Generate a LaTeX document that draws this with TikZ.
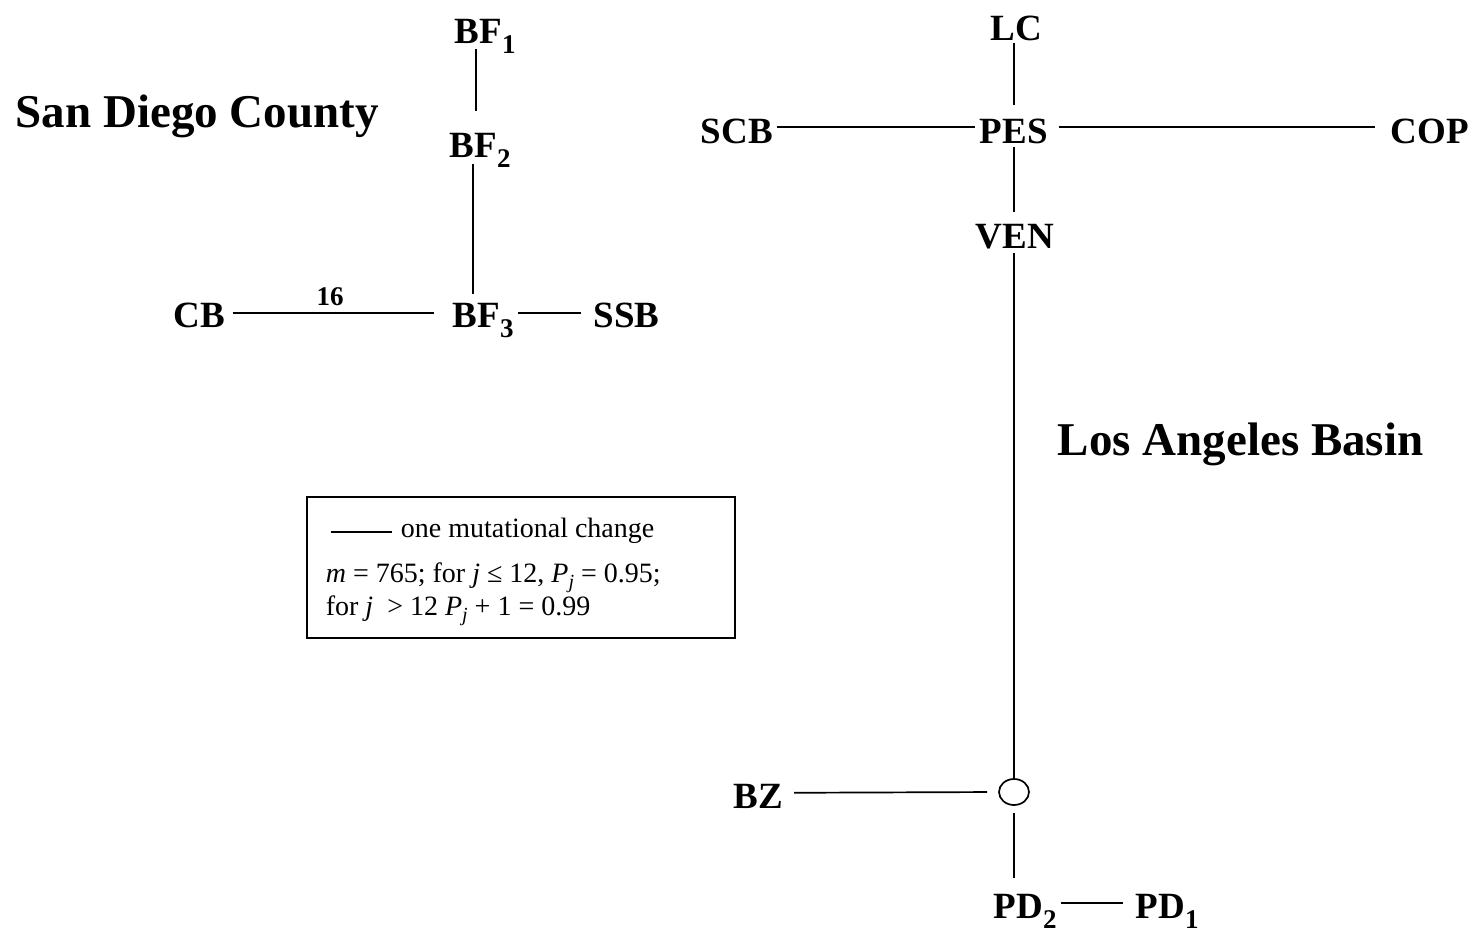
\documentclass[tikz,border=0pt]{standalone}
\usepackage{fontspec}
\setmainfont{Liberation Serif}
\usetikzlibrary{shapes.geometric}
\newcommand\sitesub[1]{\raisebox{-5pt}{\fontsize{13.5}{14}\selectfont #1}}
\newcommand\legsub[1]{\raisebox{-3.2pt}{\fontsize{10}{10}\selectfont\itshape #1}}
\begin{document}
\begin{tikzpicture}[x=0.5pt,y=-0.5pt,
  line width=0.85pt,
  site/.style={anchor=base west, inner sep=0pt, text height=12.2pt, text depth=0pt,
    font=\fontsize{18.5}{22}\selectfont\bfseries},
  region/.style={anchor=base west, inner sep=0pt, font=\fontsize{23.5}{28}\selectfont\bfseries},
  count/.style={anchor=base, inner sep=0pt, font=\fontsize{13.5}{16}\selectfont\bfseries},
  legtext/.style={anchor=base west, inner sep=0pt, font=\fontsize{14}{17}\selectfont},
  hub/.style={ellipse, draw, fill=white, minimum width=15pt, minimum height=13pt, inner sep=0pt}
]
\useasboundingbox (0,0) rectangle (1480,932);

% region titles
\node[region] (sdc) at (15,127) {San Diego County};
\node[region] (lab) at (1057,455) {Los Angeles Basin};

% San Diego network
\node[site] (BF1) at (454,43) {BF\sitesub{1}};
\node[site] (BF2) at (449,157) {BF\sitesub{2}};
\node[site] (BF3) at (452,327) {BF\sitesub{3}};
\node[site] (CB)  at (173,327) {CB};
\node[site] (SSB) at (593,327) {SSB};
\node[count] (n16) at (330,305) {16};

\draw[shorten <=2.5pt, shorten >=10.3pt] ([xshift=11pt]BF1.south west) -- ([xshift=11pt]BF1.south west |- BF2.north);
\draw[shorten <=3pt, shorten >=3.8pt] ([xshift=12pt]BF2.south west) -- ([xshift=12pt]BF2.south west |- BF3.north);
\draw[shorten <=3.3pt, shorten >=9pt] ([yshift=0.8pt]CB.east) -- ([yshift=0.8pt]CB.east -| BF3.west);
\draw[shorten <=2pt, shorten >=6pt] ([yshift=1pt]BF3.east) -- ([yshift=1pt]BF3.east -| SSB.west);

% Los Angeles network
\node[site] (LC)  at (990,40) {LC};
\node[site] (PES) at (979,143) {PES};
\node[site] (SCB) at (700,143) {SCB};
\node[site] (COP) at (1390,143) {COP};
\node[site] (VEN) at (975,248) {VEN};
\node[hub]  (hb)  at (1014,792) {};
\node[site] (BZ)  at (733,808) {BZ};
\node[site] (PD2) at (993,918) {PD\sitesub{2}};
\node[site] (PD1) at (1135,918) {PD\sitesub{1}};

\draw[shorten <=6.3pt, shorten >=1pt] (hb.north |- PES.north) -- (hb.north |- LC.south);
\draw[shorten <=1.5pt, shorten >=2pt] ([yshift=2pt]SCB.east) -- ([yshift=2pt]PES.west);
\draw[shorten <=5pt, shorten >=7.5pt] ([yshift=2pt]PES.east) -- ([yshift=2pt]COP.west);
\draw[shorten <=1.8pt, shorten >=5.5pt] (hb.north |- PES.south) -- (hb.north |- VEN.north);
\draw[shorten <=2pt] (hb.north |- VEN.south) -- (hb.north);
\draw[shorten <=5pt, shorten >=5.5pt] ([yshift=1.5pt]BZ.east) -- (hb.west);
\draw[shorten <=3.5pt, shorten >=7.3pt] (hb.south) -- (hb.south |- PD2.north);
\draw[shorten <=1.5pt, shorten >=6pt] ([yshift=1.5pt]PD2.east) -- ([yshift=1.5pt]PD2.east -| PD1.west);

% legend
\node[draw, line width=1pt, minimum width=213.9pt, minimum height=70.5pt, inner sep=0pt] (legend) at (521.2,567.8) {};
\coordinate (ls) at (330.7,531.7);
\coordinate (le) at (391.7,531.7);
\draw (ls) -- (le);
\node[legtext] (l1) at (400,537) {one mutational change};
\node[legtext] (l2) at (325,582) {\textit{m} = 765; for \textit{j} ≤ 12, \textit{P}\legsub{j} = 0.95;};
\node[legtext] (l3) at (325,615) {for \textit{j}\ \ > 12 \textit{P}\legsub{j} + 1 = 0.99};
\end{tikzpicture}
\end{document}
